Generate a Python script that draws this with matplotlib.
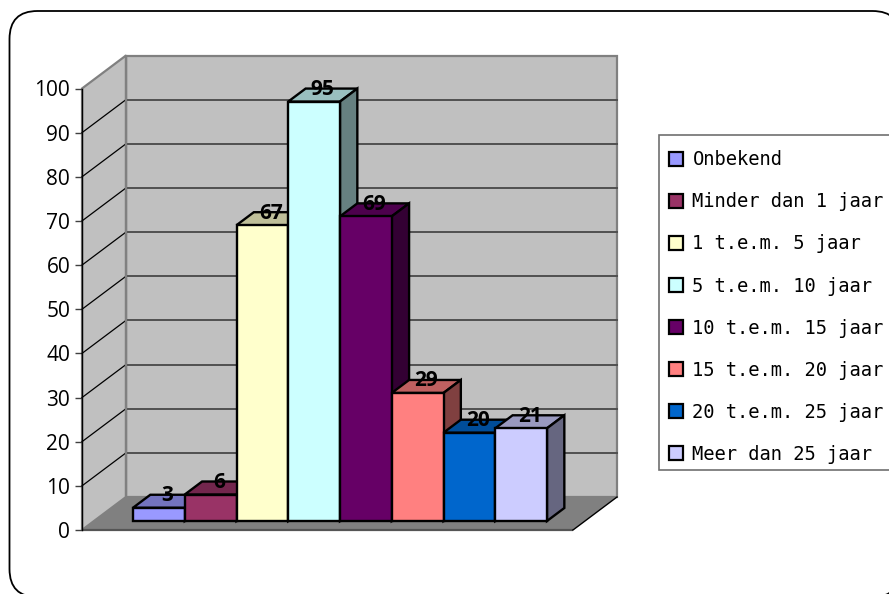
import matplotlib
matplotlib.use("Agg")
import matplotlib.pyplot as plt
from matplotlib.patches import FancyBboxPatch, Patch, Polygon, Rectangle
from matplotlib.transforms import Affine2D
import numpy as np

labels = ['Onbekend', 'Minder dan 1 jaar', '1 t.e.m. 5 jaar', '5 t.e.m. 10 jaar',
          '10 t.e.m. 15 jaar', '15 t.e.m. 20 jaar', '20 t.e.m. 25 jaar', 'Meer dan 25 jaar']
values = [3, 6, 67, 95, 69, 29, 20, 21]
colors = ['#9999FF', '#993366', '#FFFFCC', '#CCFFFF', '#660066', '#FF8080', '#0066CC', '#CCCCFF']
yticks = [0, 10, 20, 30, 40, 50, 60, 70, 80, 90, 100]

W, H = 889, 594
FONT = 'DejaVu Sans Mono'
NUMFONT = 'Open Sans'
BAR_PX = 51.75

fig = plt.figure(figsize=(W / 100, H / 100), dpi=100)

# rounded frame runs off the right and bottom edge of the picture
px = Affine2D().scale(1, -1).translate(0, H)
frame = FancyBboxPatch((37.5, 39), 835, 530, boxstyle='round,pad=28,rounding_size=28',
                       fc='white', ec='black', lw=1.3, transform=px, zorder=-2)
fig.add_artist(frame)

# axes = front plane of the fake 3d box, one x unit is one bar
ax = fig.add_axes([82 / W, (H - 530) / H, 491 / W, 441.5 / H])
ax.patch.set_visible(False)
xmin = -39 / BAR_PX
xmax = xmin + 491 / BAR_PX
ax.set_xlim(xmin, xmax)
ax.set_ylim(0, 100)

# depth of the box in data units
dx = 44 / BAR_PX
dy = 33 / 4.415


def proj(x, y, d):
    return (x + d * dx, y + d * dy)


def face(points, **kw):
    p = Polygon(points, closed=True, clip_on=False, **kw)
    ax.add_patch(p)


# walls and floor
face([proj(xmin, 0, 1), proj(xmax, 0, 1), proj(xmax, 100, 1), proj(xmin, 100, 1)],
     fc='#C0C0C0', ec='#808080', lw=1.6, zorder=1)
face([proj(xmin, 0, 0), proj(xmin, 0, 1), proj(xmin, 100, 1), proj(xmin, 100, 0)],
     fc='#C0C0C0', ec='#808080', lw=1.6, zorder=1)
face([proj(xmin, 0, 0), proj(xmax, 0, 0), proj(xmax, 0, 1), proj(xmin, 0, 1)],
     fc='#808080', ec='none', zorder=1)
ax.plot([xmin, xmax], [0, 0], color='#555555', lw=1.6, clip_on=False, zorder=2, solid_capstyle='butt')
ax.plot(*zip(proj(xmax, 0, 0), proj(xmax, 0, 1)), color='black', lw=1, clip_on=False, zorder=2)

# gridlines
for v in yticks[1:-1]:
    ax.plot(*zip(proj(xmin, v, 1), proj(xmax, v, 1)), color='#505050', lw=1.4, clip_on=False, zorder=2)
    ax.plot(*zip(proj(xmin, v, 0), proj(xmin, v, 1)), color='black', lw=0.9, clip_on=False, zorder=2)
ax.plot(*zip(proj(xmin, 0, 1), proj(xmin, 100, 1)), color='#808080', lw=1.6, clip_on=False, zorder=2)

# bars
d0 = 9 / 33
bd = 13 / 33
for i, (v, c) in enumerate(zip(values, colors)):
    z = 3 + i
    rgb = np.array(matplotlib.colors.to_rgb(c))
    x0, y0 = proj(i, 0, d0)
    ax.bar(x0, v, width=1, bottom=y0, align='edge', color=c, edgecolor='black', lw=1.7,
           zorder=z + 0.5, clip_on=False)
    top = y0 + v
    # top face
    face([(x0, top), (x0 + 1, top), (x0 + 1 + bd * dx, top + bd * dy), (x0 + bd * dx, top + bd * dy)],
         fc=rgb * 0.75, ec='black', lw=1.7, zorder=z)
    # side face
    face([(x0 + 1, y0), (x0 + 1 + bd * dx, y0 + bd * dy), (x0 + 1 + bd * dx, top + bd * dy), (x0 + 1, top)],
         fc=rgb * 0.5, ec='black', lw=1.7, zorder=z)
    ax.text(x0 + 0.5 + bd * dx / 2, top + bd * dy - 0.2, str(v), ha='center', va='center',
            family=NUMFONT, fontsize=15, fontweight='bold', color='black', zorder=20)

# y axis
for s in ['top', 'right', 'bottom']:
    ax.spines[s].set_visible(False)
ax.spines['left'].set_linewidth(1.0)
ax.spines['left'].set_zorder(3)
ax.set_xticks([])
ax.set_yticks(yticks)
ax.tick_params(axis='y', length=5, width=1, color='#404040', pad=3.5)
for t in ax.get_yticklabels():
    t.set_family(NUMFONT)
    t.set_fontsize(15)

# legend box is its own rectangle so the rows can sit where they should
fig.add_artist(Rectangle((659, 135), 260, 335, fc='white', ec='#707070', lw=1.2, transform=px, zorder=-1))
handles = [Patch(facecolor=c, edgecolor='black', lw=1.6) for c in colors]
leg = fig.legend(handles, labels, loc='upper left', bbox_to_anchor=(659 / W, 1 - 140 / H),
                 prop={'family': FONT, 'size': 13.5}, frameon=False,
                 handlelength=0.75, handleheight=0.75, handletextpad=0.48,
                 labelspacing=1.23, borderpad=0.55, borderaxespad=0)

fig.savefig('out.png', dpi=100)
